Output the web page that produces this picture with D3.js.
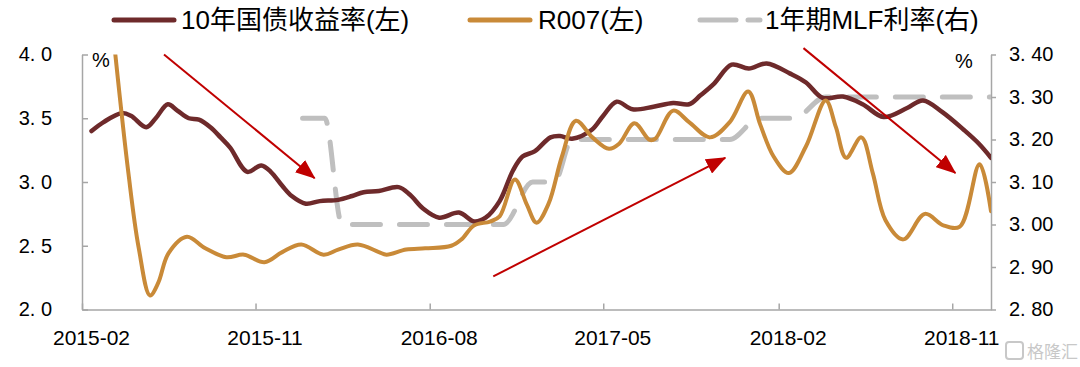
<!DOCTYPE html>
<html>
<head>
<meta charset="utf-8">
<script src="https://cdn.jsdelivr.net/npm/d3@7"></script>
<style>
  body { margin: 0; background: #fff; }
  text { font-family: "Liberation Sans", "Noto Sans CJK SC", sans-serif; }
</style>
</head>
<body>
<div id="chart"></div>
<script>
// 10年国债收益率 (left axis)
var dates10y = ["2015-02-16","2015-03-07","2015-04-04","2015-04-19","2015-05-13","2015-05-28","2015-06-16","2015-07-01","2015-07-19","2015-08-04","2015-08-22","2015-09-07","2015-09-22","2015-10-19","2015-11-10","2015-11-25","2015-12-13","2015-12-28","2016-01-19","2016-02-10","2016-03-10","2016-04-01","2016-04-19","2016-05-13","2016-06-13","2016-07-01","2016-07-22","2016-08-16","2016-09-16","2016-10-10","2016-10-28","2016-11-19","2016-12-10","2016-12-25","2017-01-13","2017-02-07","2017-02-22","2017-03-13","2017-04-13","2017-05-01","2017-05-22","2017-06-16","2017-07-19","2017-08-19","2017-09-13","2017-10-01","2017-10-22","2017-11-19","2017-12-16","2018-01-13","2018-02-19","2018-03-16","2018-04-11","2018-05-13","2018-06-13","2018-07-16","2018-08-22","2018-09-16","2018-10-16","2018-11-19","2018-12-13","2019-01-01"];
var yield10y = [3.40,3.47,3.54,3.52,3.43,3.50,3.61,3.56,3.50,3.49,3.43,3.35,3.27,3.08,3.13,3.08,2.97,2.89,2.83,2.85,2.86,2.89,2.92,2.93,2.96,2.90,2.79,2.72,2.76,2.69,2.72,2.85,3.09,3.20,3.24,3.35,3.36,3.34,3.41,3.52,3.63,3.57,3.59,3.62,3.61,3.68,3.77,3.92,3.89,3.93,3.85,3.78,3.66,3.67,3.61,3.51,3.58,3.64,3.55,3.41,3.30,3.19];

// R007 (left axis)
var datesR007 = ["2015-03-25","2015-04-15","2015-05-01","2015-05-19","2015-06-01","2015-06-17","2015-07-16","2015-08-14","2015-09-16","2015-10-14","2015-11-15","2015-12-13","2016-01-12","2016-02-16","2016-03-10","2016-04-10","2016-05-13","2016-05-25","2016-06-25","2016-07-25","2016-09-04","2016-09-20","2016-10-10","2016-11-04","2016-11-19","2016-12-13","2017-01-01","2017-01-16","2017-02-04","2017-02-25","2017-03-19","2017-04-14","2017-05-10","2017-05-26","2017-06-19","2017-07-13","2017-07-22","2017-08-19","2017-09-13","2017-10-16","2017-11-16","2017-12-15","2018-01-03","2018-01-24","2018-02-17","2018-03-16","2018-04-16","2018-05-02","2018-05-18","2018-06-11","2018-06-29","2018-07-19","2018-08-16","2018-09-19","2018-10-18","2018-11-13","2018-12-14","2019-01-01"];
var r007 = [4.02,3.07,2.49,2.11,2.21,2.44,2.57,2.48,2.41,2.43,2.37,2.45,2.51,2.43,2.47,2.51,2.45,2.43,2.47,2.48,2.50,2.55,2.66,2.69,2.73,3.02,2.82,2.68,2.83,3.20,3.48,3.35,3.26,3.30,3.46,3.33,3.34,3.56,3.47,3.35,3.47,3.71,3.45,3.20,3.07,3.28,3.64,3.43,3.19,3.35,3.07,2.70,2.55,2.75,2.66,2.65,3.14,2.77];

// 1年期MLF利率 (right axis)
var datesMLF = ["2016-01-14","2016-02-18","2016-03-16","2016-11-25","2017-01-10","2017-02-13","2017-03-13","2017-11-16","2018-01-01","2018-02-25","2018-04-16","2019-01-01"];
var mlf = [3.25,3.25,3.00,3.00,3.10,3.10,3.20,3.20,3.25,3.25,3.30,3.30];

var xTicks = ["2015-02-01","2015-11-01","2016-08-01","2017-05-01","2018-02-01","2018-11-01"];
var leftTicks = [2.0,2.5,3.0,3.5,4.0];
var rightTicks = [2.80,2.90,3.00,3.10,3.20,3.30,3.40];

// trend arrows, in data units (date, left-axis value)
var arrows = [
  [["2015-06-10",4.00],["2016-02-02",3.03]],
  [["2016-11-09",2.26],["2017-11-09",3.19]],
  [["2018-03-12",4.05],["2018-11-06",3.07]]
];

var width = 1080, height = 367;
var plotLeft = 82, plotRight = 991, plotTop = 54.5, plotBottom = 309.5;
var parse = d3.timeParse("%Y-%m-%d");

var svg = d3.select("#chart").append("svg")
  .attr("width", width).attr("height", height);

var x = d3.scaleTime()
  .domain([new Date(2015,1,1), new Date(2019,0,1)])
  .range([plotLeft, plotRight]);
var yL = d3.scaleLinear().domain([2.0, 4.0]).range([plotBottom, plotTop]);
var yR = d3.scaleLinear().domain([2.8, 3.4]).range([plotBottom, plotTop]);

var axisColor = "#A6A6A6";

// axes
var gx = svg.append("g").attr("transform", "translate(0," + plotBottom + ")")
  .call(d3.axisBottom(x).tickValues(xTicks.map(parse))
    .tickFormat(d3.timeFormat("%Y-%m")).tickSizeInner(-6).tickSizeOuter(0).tickPadding(21));
gx.selectAll("text").attr("dx", 9).style("font-size", "21px").attr("fill", "#000");

var gl = svg.append("g").attr("transform", "translate(" + plotLeft + ",0)")
  .call(d3.axisLeft(yL).tickValues(leftTicks)
    .tickFormat(function(d){ return d.toFixed(1).replace(".", ". "); })
    .tickSizeInner(-6).tickSizeOuter(0).tickPadding(30));
gl.selectAll("text").style("font-size", "20px").attr("fill", "#000");

var gr = svg.append("g").attr("transform", "translate(" + plotRight + ",0)")
  .call(d3.axisRight(yR).tickValues(rightTicks)
    .tickFormat(function(d){ return d.toFixed(2).replace(".", ". "); })
    .tickSizeInner(5).tickSizeOuter(0).tickPadding(13));
gr.selectAll("text").style("font-size", "20px").attr("fill", "#000");

[gx, gl, gr].forEach(function(g){
  g.select(".domain").attr("stroke", axisColor).attr("stroke-width", 1.5);
  g.selectAll(".tick line").attr("stroke", axisColor).attr("stroke-width", 1.5);
});

svg.append("text").attr("x", 92).attr("y", 67).style("font-size", "20px").text("%");
svg.append("text").attr("x", 955).attr("y", 68).style("font-size", "20px").text("%");

// clip to plot area
svg.append("clipPath").attr("id", "plot")
  .append("rect").attr("x", plotLeft).attr("y", plotTop)
  .attr("width", plotRight - plotLeft).attr("height", plotBottom - plotTop);

var plot = svg.append("g").attr("clip-path", "url(#plot)");

var mlfData = datesMLF.map(function(d, i){ return {date: parse(d), v: mlf[i]}; });
var yData = dates10y.map(function(d, i){ return {date: parse(d), v: yield10y[i]}; });
var rData = datesR007.map(function(d, i){ return {date: parse(d), v: r007[i]}; });

plot.append("path").datum(mlfData)
  .attr("fill", "none").attr("stroke", "#BFBFBF").attr("stroke-width", 5)
  .attr("stroke-dasharray", "28,19").attr("stroke-linecap", "round")
  .attr("d", d3.line().curve(d3.curveMonotoneX)
    .x(function(d){ return x(d.date); }).y(function(d){ return yR(d.v); }));

plot.append("path").datum(yData)
  .attr("fill", "none").attr("stroke", "#6E2A2B").attr("stroke-width", 4.5)
  .attr("stroke-linejoin", "round").attr("stroke-linecap", "round")
  .attr("d", d3.line().curve(d3.curveCatmullRom.alpha(0.5))
    .x(function(d){ return x(d.date); }).y(function(d){ return yL(d.v); }));

plot.append("path").datum(rData)
  .attr("fill", "none").attr("stroke", "#C98A38").attr("stroke-width", 4)
  .attr("stroke-linejoin", "round").attr("stroke-linecap", "round")
  .attr("d", d3.line().curve(d3.curveCatmullRom.alpha(0.5))
    .x(function(d){ return x(d.date); }).y(function(d){ return yL(d.v); }));

// red arrows
svg.append("defs").append("marker")
  .attr("id", "head").attr("markerUnits", "userSpaceOnUse")
  .attr("markerWidth", 20).attr("markerHeight", 16)
  .attr("refX", 19).attr("refY", 8).attr("orient", "auto")
  .append("path").attr("d", "M0,0 L20,8 L0,16 Z").attr("fill", "#C00000");

svg.selectAll(".arrow").data(arrows).enter().append("line")
  .attr("class", "arrow")
  .attr("x1", function(d){ return x(parse(d[0][0])); })
  .attr("y1", function(d){ return yL(d[0][1]); })
  .attr("x2", function(d){ return x(parse(d[1][0])); })
  .attr("y2", function(d){ return yL(d[1][1]); })
  .attr("stroke", "#C00000").attr("stroke-width", 2)
  .attr("marker-end", "url(#head)");

// legend
var legend = [
  {name: "10年国债收益率(左)", color: "#6E2A2B", dash: null, x1: 114, x2: 174, tx: 181},
  {name: "R007(左)", color: "#C98A38", dash: null, x1: 470, x2: 530, tx: 538},
  {name: "1年期MLF利率(右)", color: "#BFBFBF", dash: "36,12", x1: 700, x2: 760, tx: 765}
];
var lg = svg.selectAll(".legend").data(legend).enter().append("g").attr("class", "legend");
lg.append("line")
  .attr("x1", function(d){ return d.x1; }).attr("x2", function(d){ return d.x2; })
  .attr("y1", 20).attr("y2", 20)
  .attr("stroke", function(d){ return d.color; }).attr("stroke-width", 5)
  .attr("stroke-linecap", "round")
  .attr("stroke-dasharray", function(d){ return d.dash; });
lg.append("text")
  .attr("x", function(d){ return d.tx; }).attr("y", 29)
  .style("font-size", "26px").attr("fill", "#000")
  .text(function(d){ return d.name; });

// watermark
var wm = svg.append("g").attr("fill", "none").attr("stroke", "#C8C8C8");
wm.append("rect").attr("x", 1006).attr("y", 342).attr("width", 17).attr("height", 17).attr("rx", 3).attr("stroke-width", 2);
svg.append("text").attr("x", 1027).attr("y", 358).style("font-size", "17px")
  .attr("fill", "#C8C8C8").text("格隆汇");
</script>
</body>
</html>
